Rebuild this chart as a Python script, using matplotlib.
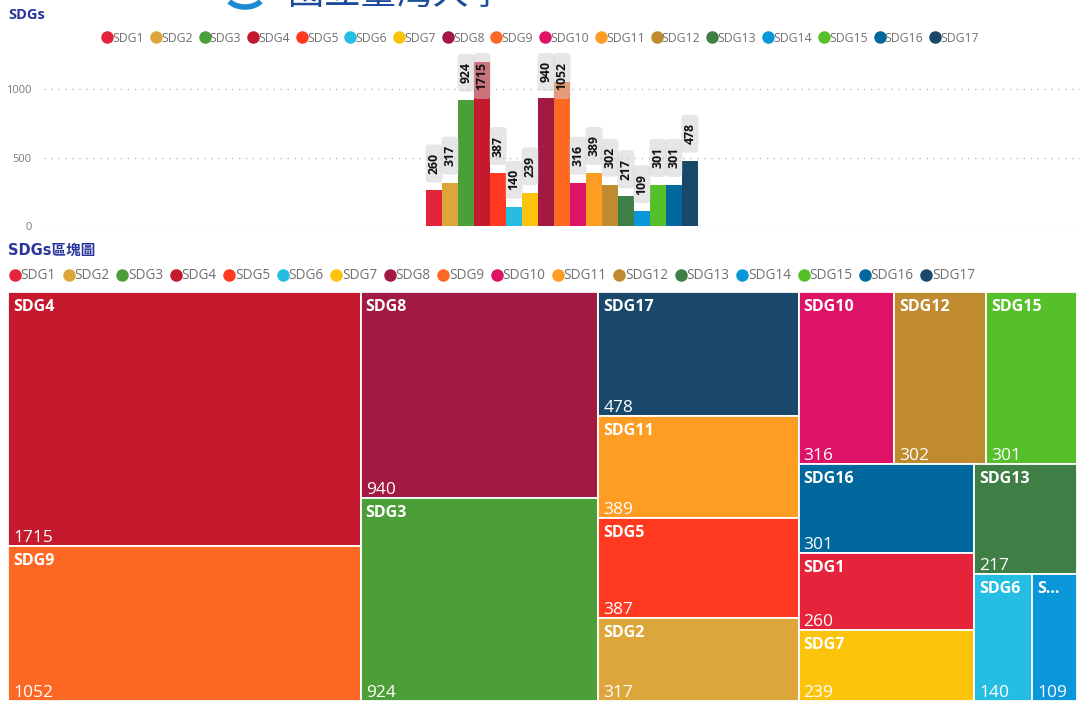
import matplotlib.pyplot as plt
from matplotlib.lines import Line2D
from matplotlib.patches import Rectangle, FancyBboxPatch, Arc
from matplotlib.transforms import IdentityTransform

plt.rcParams['font.family'] = ['Open Sans', 'Noto Sans CJK TC', 'DejaVu Sans']

names = ['SDG%d' % i for i in range(1, 18)]
values = [260, 317, 924, 1715, 387, 140, 239, 940, 1052, 316, 389, 302, 217, 109, 301, 301, 478]
colors = ['#E5243B', '#DDA63A', '#4C9F38', '#C5192D', '#FF3A21', '#26BDE2', '#FCC30B',
          '#A21942', '#FD6925', '#DD1367', '#FD9D24', '#BF8B2E', '#3F7E44', '#0A97D9',
          '#56C02B', '#00689D', '#19486A']
yticks = [0, 500, 1000]
bar_title = 'SDGs'
map_title = 'SDGs區塊圖'

W, H = 1084, 702
NAVY = '#28359A'
GREY = '#707070'


def squarify(vals, x0, y0, x1, y1, ratio=(1 + 5 ** 0.5) / 2):
    # d3-style squarified treemap, y grows downward
    order = sorted(range(len(vals)), key=lambda i: -vals[i])
    total = float(sum(vals))
    out = {}
    i0, n = 0, len(order)
    while i0 < n:
        dx, dy = x1 - x0, y1 - y0
        s = mn = mx = vals[order[i0]]
        alpha = max(dy / dx, dx / dy) / (total * ratio)
        beta = s * s * alpha
        best = max(mx / beta, beta / mn)
        i1 = i0 + 1
        while i1 < n:
            v = vals[order[i1]]
            beta = (s + v) ** 2 * alpha
            r = max(max(mx, v) / beta, beta / min(mn, v))
            if r > best:
                break
            s, mn, mx, best = s + v, min(mn, v), max(mx, v), r
            i1 += 1
        row = order[i0:i1]
        if dx < dy:
            h = dy * s / total
            x = x0
            for k in row:
                w = dx * vals[k] / s
                out[k] = (x, y0, w, h)
                x += w
            y0 += h
        else:
            w = dx * s / total
            y = y0
            for k in row:
                h = dy * vals[k] / s
                out[k] = (x0, y, w, h)
                y += h
            x0 += w
        total -= s
        i0 = i1
    return out


def px(x, y):
    return x / W, 1 - y / H


fig = plt.figure(figsize=(W / 100, H / 100), dpi=100)

# cropped header logo
fig.text(*px(288, 4), '國立臺灣大學', fontsize=26, color='#1B4B9A',
         va='baseline', family=['Noto Sans CJK TC'])
fig.patches.append(Arc((245, H + 6), 38, 26, theta1=205, theta2=335, lw=4,
                       color='#1E8AD2', transform=IdentityTransform(), figure=fig))

# ---- bar chart ----
fig.text(*px(8, 15), bar_title, fontsize=10.5, fontweight='bold', color=NAVY, va='center')
handles = [Line2D([], [], marker='o', ls='none', markersize=8, color=c) for c in colors]
fig.legend(handles, names, loc='center', bbox_to_anchor=px(541, 38), ncol=17,
           frameon=False, fontsize=8.8, handletextpad=0.05, columnspacing=0.6,
           handlelength=0.75, borderpad=0, labelcolor=GREY)

ax = fig.add_axes([44 / W, 1 - 226 / H, 1036 / W, 164 / H])
ymax = 1200
xs = [i - 8 for i in range(len(values))]
ax.bar(xs, values, width=1, color=colors)
ax.set_ylim(0, ymax)
ax.set_xlim(-32.4, 32.4)
ax.set_yticks(yticks)
ax.set_xticks([])
ax.tick_params(axis='y', length=0, pad=9, labelsize=8, labelcolor='#777777')
ax.grid(axis='y', ls=(0, (1, 4)), color='#BBBBBB', lw=1)
ax.set_axisbelow(True)
for s in ax.spines.values():
    s.set_visible(False)

fig.canvas.draw()
top_px = ax.transData.transform((0, ymax))[1]
for x, v in zip(xs, values):
    cx, by = ax.transData.transform((x, min(v, ymax)))
    bh = 14 + 8 * len(str(v))
    y0 = min(by + 8, top_px + 9 - bh)
    fig.patches.append(FancyBboxPatch((cx - 8.5, y0), 17, bh,
                                      boxstyle='round,pad=0,rounding_size=4',
                                      fc='#CFCFCF', ec='none', alpha=0.5,
                                      transform=IdentityTransform(), figure=fig))
    fig.text(cx / W, (y0 + bh / 2) / H, str(v), rotation=90, ha='center', va='center',
             fontsize=8.8, fontweight='bold', color='#111111')

# ---- treemap ----
fig.text(*px(8, 250), map_title, fontsize=10.5, fontweight='bold', color=NAVY, va='center',
         family=['DejaVu Sans', 'Noto Sans CJK TC'])
fig.legend(handles, names, loc='center left', bbox_to_anchor=px(3, 276), ncol=17,
           frameon=False, fontsize=9.8, handletextpad=0.05, columnspacing=0.55,
           handlelength=0.75, borderpad=0, labelcolor=GREY)

TW, TH = 1069, 409
tax = fig.add_axes([8 / W, 1 / H, TW / W, TH / H])
tax.set_xlim(0, TW)
tax.set_ylim(TH, 0)
tax.axis('off')

tiles = squarify(values, 0, 0, TW, TH)
r = fig.canvas.get_renderer()
for k, (x, y, w, h) in tiles.items():
    tax.add_patch(Rectangle((x, y), w, h, fc=colors[k], ec='white', lw=1.3))
    lab = tax.text(x + 5, y + 7, names[k], fontsize=11.5, fontweight='bold',
                   color='white', va='top', ha='left')
    name = names[k]
    while lab.get_window_extent(r).width > w - 14 and len(name) > 1:
        name = name[:-1]
        lab.set_text(name + '...')
    tax.text(x + 5, y + h - 4, str(values[k]), fontsize=12.5, color='white',
             va='baseline', ha='left')

fig.savefig('out.png', dpi=100)
